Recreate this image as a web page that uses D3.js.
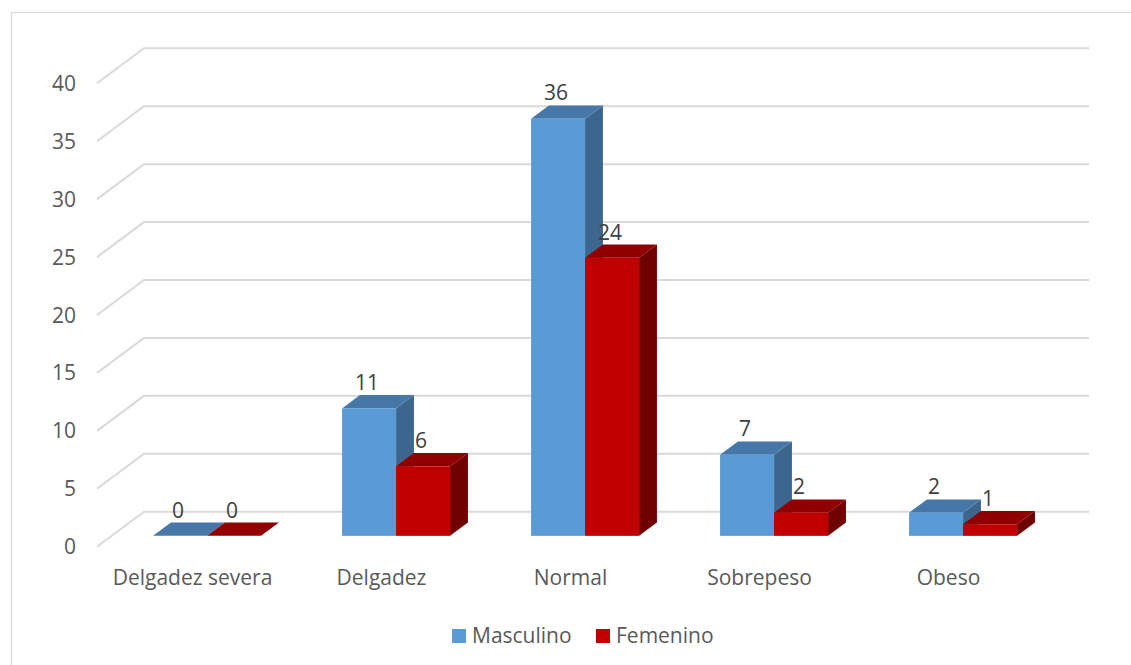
<!DOCTYPE html>
<html>
<head>
<meta charset="utf-8">
<script src="https://cdn.jsdelivr.net/npm/d3@7"></script>
<style>
  html, body { margin: 0; padding: 0; background: #ffffff; }
  svg { display: block; }
  text { font-family: "Open Sans", "Liberation Sans", sans-serif; fill: #595959; }
</style>
</head>
<body>
<svg id="chart" width="1131" height="665"></svg>
<script>
// Estado nutricional por sexo
const categories = ["Delgadez severa", "Delgadez", "Normal", "Sobrepeso", "Obeso"];
const seriesNames = ["Masculino", "Femenino"];
const masculino = [0, 11, 36, 7, 2];
const femenino = [0, 6, 24, 2, 1];
const yTicks = [0, 5, 10, 15, 20, 25, 30, 35, 40];

const colors = {
  Masculino: { front: "#5b9bd5", top: "#4677a6", side: "#3c668e" },
  Femenino:  { front: "#c00000", top: "#900000", side: "#700000" }
};

const svg = d3.select("#chart");
const W = 1131, H = 665;
const fontSize = 21;

// Chart area border
svg.append("rect")
  .attr("x", 11.5).attr("y", 12.5)
  .attr("width", W + 10).attr("height", H + 10)
  .attr("fill", "none").attr("stroke", "#d9d9d9").attr("stroke-width", 1.3);

// Front plane of the 3D plot area; depth runs up and to the right
const x = d3.scaleBand().domain(categories).range([98, 1043]).paddingInner(0).paddingOuter(0);
const y = d3.scaleLinear().domain([0, 40]).range([546.7, 83.3]);
const depthX = 47, depthY = -35;
const zFront = 0.31, zBack = 0.69;

// Project a (x, value, depth) point onto the screen
function P(px, v, z) {
  return [px + z * depthX, y(v) + z * depthY];
}

// Inner band for the two series inside each category
const barW = 54;
const groupW = barW * seriesNames.length;
const xs = d3.scaleBand().domain(seriesNames).range([0, groupW]);

// Gridlines: floor-side diagonal plus back-wall line
const grid = svg.append("g").attr("class", "grid");
yTicks.forEach(v => {
  const a = P(x.range()[0] - 1, v, 0), b = P(x.range()[0] - 1, v, 1), c = P(x.range()[1] - 1, v, 1);
  grid.append("polyline")
    .attr("points", [a, b, c].map(p => p.join(",")).join(" "))
    .attr("fill", "none").attr("stroke", "#d9d9d9").attr("stroke-width", 2);
});

// Y-axis labels
svg.append("g").selectAll("text").data(yTicks).join("text")
  .attr("x", 76).attr("y", d => y(d)).attr("dy", "0.36em")
  .attr("text-anchor", "end").attr("font-size", fontSize)
  .text(d => d);

// Bars as 3D boxes
const bars = svg.append("g").attr("class", "bars");
const labels = svg.append("g").attr("class", "labels");
const seriesData = { Masculino: masculino, Femenino: femenino };

categories.forEach((cat, i) => {
  const gx = x(cat) + (x.bandwidth() - groupW) / 2;
  seriesNames.forEach(s => {
    const v = seriesData[s][i];
    const x0 = gx + xs(s), x1 = x0 + xs.bandwidth();
    const c = colors[s];
    const poly = pts => pts.map(p => p.join(",")).join(" ");
    const f0 = P(x0, v, zFront), f1 = P(x1, 0, zFront);
    // side face
    bars.append("polygon")
      .attr("points", poly([P(x1, 0, zFront), P(x1, v, zFront), P(x1, v, zBack), P(x1, 0, zBack)]))
      .attr("fill", c.side);
    // top face
    bars.append("polygon")
      .attr("points", poly([P(x0, v, zFront), P(x1, v, zFront), P(x1, v, zBack), P(x0, v, zBack)]))
      .attr("fill", c.top);
    // front face
    bars.append("rect")
      .attr("x", f0[0]).attr("y", f0[1])
      .attr("width", f1[0] - f0[0]).attr("height", f1[1] - f0[1])
      .attr("fill", c.front);
    // value label
    const lp = P((x0 + x1) / 2, v, zBack);
    labels.append("text")
      .attr("x", (f0[0] + f1[0]) / 2 - 2).attr("y", lp[1] - 5)
      .attr("text-anchor", "middle").attr("font-size", fontSize)
      .style("fill", "#404040")
      .text(v);
  });
});

// Category labels
svg.append("g").selectAll("text").data(categories).join("text")
  .attr("x", d => x(d) + x.bandwidth() / 2).attr("y", 585)
  .attr("text-anchor", "middle").attr("font-size", fontSize)
  .text(d => d);

// Legend
const legend = svg.append("g").attr("class", "legend");
const legendItems = [
  { name: "Masculino", sx: 452, tx: 472 },
  { name: "Femenino", sx: 596, tx: 616 }
];
legendItems.forEach(it => {
  legend.append("rect").attr("x", it.sx).attr("y", 629).attr("width", 14).attr("height", 14)
    .attr("fill", colors[it.name].front);
  legend.append("text").attr("x", it.tx).attr("y", 643).attr("font-size", fontSize).text(it.name);
});
</script>
</body>
</html>
